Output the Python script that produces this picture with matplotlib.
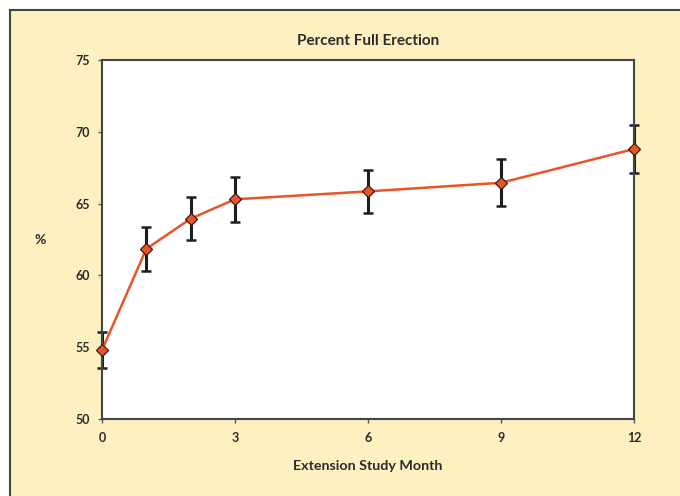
import matplotlib.pyplot as plt
from matplotlib.patches import Rectangle

# Percent full erection by extension study month
months = [0, 1, 2, 3, 6, 9, 12]
pct = [54.8, 61.85, 63.95, 65.3, 65.85, 66.45, 68.8]
err = [1.25, 1.55, 1.5, 1.55, 1.5, 1.65, 1.65]

x_ticks = [0, 3, 6, 9, 12]
y_ticks = [50, 55, 60, 65, 70, 75]

bg = '#FEF0C0'
line_col = '#EC5428'
dark = '#2B2B2B'

plt.rcParams['font.family'] = ['Lato', 'DejaVu Sans']

fig = plt.figure(figsize=(6.8, 4.96), dpi=100)
fig.patch.set_facecolor('white')

# yellow panel with dark frame
fig.patches.append(Rectangle((9.5 / 680, -0.05), 1.0, 1 - 10.5 / 496 + 0.05,
                             transform=fig.transFigure, facecolor=bg,
                             edgecolor='#444444', linewidth=1.5, zorder=-1))

ax = fig.add_axes([102 / 680, 1 - 419 / 496, (634 - 102) / 680, (419 - 60) / 496])
ax.set_facecolor('white')

eb = ax.errorbar(months, pct, yerr=err, fmt='none', ecolor='#1E1E1E',
                 elinewidth=2.2, capsize=3.5, capthick=1.8, zorder=2)
for art in eb.lines[1] + eb.lines[2]:
    art.set_clip_on(False)
ax.plot(months, pct, color=line_col, linewidth=1.8, zorder=3, clip_on=False)
ax.plot(months, pct, linestyle='none', marker='D', markersize=6,
        markerfacecolor=line_col, markeredgecolor='#3A1A10',
        markeredgewidth=0.9, zorder=4, clip_on=False)

ax.set_xlim(0, 12)
ax.set_ylim(50, 75)
ax.set_xticks(x_ticks)
ax.set_yticks(y_ticks)
ax.tick_params(axis='both', direction='out', length=3, width=1,
               color='#555555', labelsize=9, labelcolor=dark, pad=6)
for lbl in ax.get_xticklabels() + ax.get_yticklabels():
    lbl.set_fontweight('bold')

for side in ['left', 'bottom', 'right', 'top']:
    ax.spines[side].set_color('#444444')
    ax.spines[side].set_linewidth(1.5)

ax.set_title('Percent Full Erection', fontsize=11, fontweight='bold',
             color=dark, pad=11)
ax.set_xlabel('Extension Study Month', fontsize=10.3, fontweight='bold',
              color=dark, labelpad=12)
ax.set_ylabel('%', fontsize=10, fontweight='bold', color=dark,
              rotation=0, va='center', ha='center')
ax.yaxis.set_label_coords(-62 / 532, 0.5)

fig.savefig('out.png', dpi=100, facecolor=fig.get_facecolor())
